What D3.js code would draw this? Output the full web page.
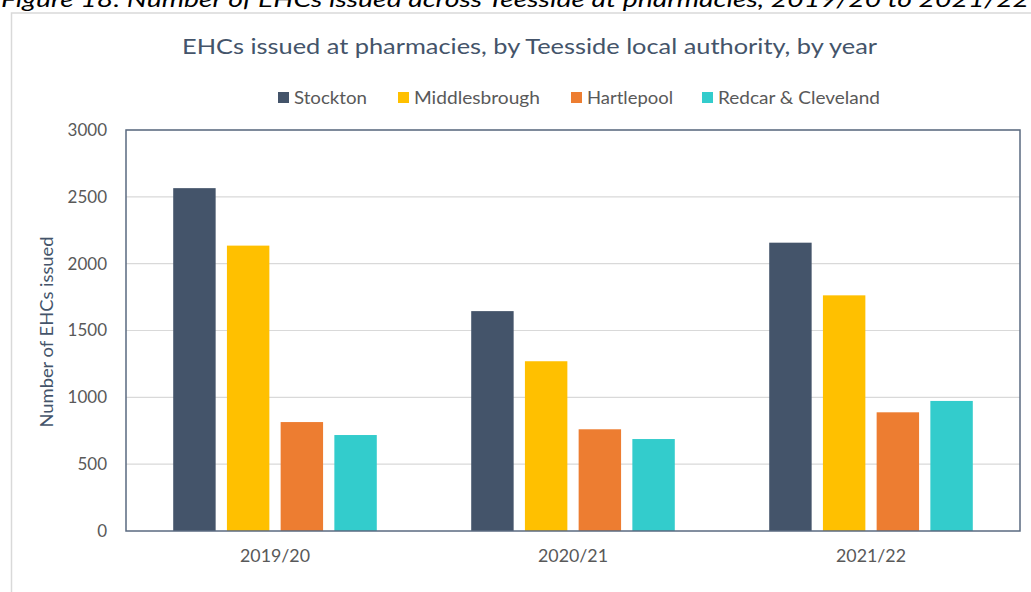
<!DOCTYPE html>
<html><head><meta charset="utf-8">
<script src="https://cdn.jsdelivr.net/npm/d3@7"></script>
<style>body{margin:0;background:#fff}svg{display:block}text{font-family:Lato,"Open Sans",sans-serif}</style>
</head><body>
<svg id="c" width="1031" height="592"></svg>
<script>
const categories = ["2019/20", "2020/21", "2021/22"];
const seriesNames = ["Stockton", "Middlesbrough", "Hartlepool", "Redcar & Cleveland"];
const stockton = [2565, 1645, 2157];
const middlesbrough = [2135, 1270, 1763];
const hartlepool = [815, 761, 888];
const redcar = [718, 688, 973];
const yTicks = [0, 500, 1000, 1500, 2000, 2500, 3000];
const colors = ["#44546A", "#FFC000", "#ED7D31", "#33CCCC"];

const series = [stockton, middlesbrough, hartlepool, redcar];
const svg = d3.select("#c");

// outer chart frame
svg.append("rect").attr("x", 11.5).attr("y", 13).attr("width", 1030).attr("height", 600)
  .attr("fill", "#fff").attr("stroke", "#d9d9d9").attr("stroke-width", 1.5);

// caption (cropped at top)
svg.append("text").attr("x", 1).attr("y", 6.5).attr("font-style", "italic")
  .attr("font-size", 22).attr("fill", "#000").attr("textLength", 1028).attr("lengthAdjust", "spacingAndGlyphs")
  .text("Figure 18: Number of EHCs issued across Teesside at pharmacies, 2019/20 to 2021/22");

const L = 126, R = 1020, T = 130, B = 531;
const y = d3.scaleLinear().domain([0, 3000]).range([B, T]);
const x0 = d3.scaleBand().domain(categories).range([L, R]).paddingInner(0.279).paddingOuter(0.1395);
const x1 = d3.scaleBand().domain(seriesNames).range([0, x0.bandwidth()]).paddingInner(0.21).paddingOuter(0.105);

// gridlines
svg.append("g").selectAll("line").data(yTicks.slice(1)).join("line")
  .attr("x1", L).attr("x2", R).attr("y1", d => y(d)).attr("y2", d => y(d))
  .attr("stroke", "#d9d9d9").attr("stroke-width", 1.2);

// bars
const g = svg.append("g");
series.forEach((vals, si) => {
  g.selectAll(null).data(vals).join("rect")
    .attr("x", (d, i) => x0(categories[i]) + x1(seriesNames[si]))
    .attr("y", d => y(d))
    .attr("width", x1.bandwidth())
    .attr("height", d => B - y(d))
    .attr("fill", colors[si]);
});

// plot border
svg.append("rect").attr("x", L).attr("y", T).attr("width", R - L).attr("height", B - T)
  .attr("fill", "none").attr("stroke", "#5a6a80").attr("stroke-width", 1.5);

// y axis
const ya = svg.append("g").attr("transform", `translate(${L},0)`)
  .call(d3.axisLeft(y).tickValues(yTicks).tickSize(0).tickPadding(19).tickFormat(d3.format("d")));
ya.select(".domain").remove();
ya.selectAll("text").attr("font-size", 17).attr("fill", "#595959").style("font-family", "Lato");

// x axis
const xa = svg.append("g").attr("transform", `translate(0,${B})`)
  .call(d3.axisBottom(x0).tickSize(0).tickPadding(19));
xa.select(".domain").remove();
xa.selectAll("text").attr("font-size", 17).attr("fill", "#595959").style("font-family", "Lato")
  .attr("textLength", 70).attr("lengthAdjust", "spacingAndGlyphs");

// y axis title
svg.append("text").attr("transform", "translate(53,332) rotate(-90)").attr("text-anchor", "middle")
  .attr("font-size", 17).attr("fill", "#44546A").attr("textLength", 191).attr("lengthAdjust", "spacingAndGlyphs")
  .text("Number of EHCs issued");

// title
svg.append("text").attr("x", 182).attr("y", 54).attr("font-size", 22).attr("fill", "#44546A")
  .attr("textLength", 695).attr("lengthAdjust", "spacingAndGlyphs")
  .text("EHCs issued at pharmacies, by Teesside local authority, by year");

// legend
const legX = [278, 398, 571, 702];
const legW = [73, 126, 86, 162];
const lg = svg.append("g");
seriesNames.forEach((n, i) => {
  lg.append("rect").attr("x", legX[i]).attr("y", 92).attr("width", 11).attr("height", 11).attr("fill", colors[i]);
  lg.append("text").attr("x", legX[i] + 16).attr("y", 104).attr("font-size", 17.5).attr("fill", "#595959")
    .attr("textLength", legW[i]).attr("lengthAdjust", "spacingAndGlyphs").text(n);
});
</script>
</body></html>
